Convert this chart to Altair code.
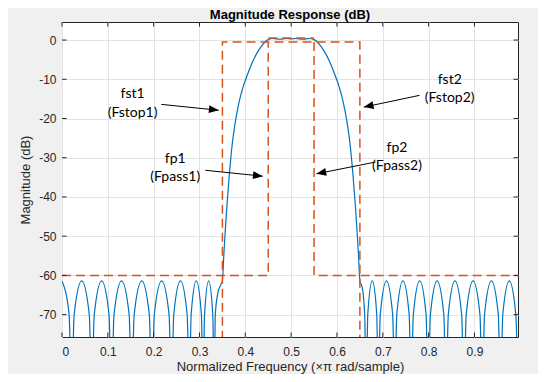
import altair as alt
import pandas as pd

# ---- Blue magnitude response ----
stop1_x = [0.000, 0.0155, 0.021,
           0.0265, 0.043, 0.0595, 0.065,
           0.0704, 0.0865, 0.1026, 0.108,
           0.1135, 0.130, 0.1465, 0.152,
           0.1575, 0.174, 0.1905, 0.196,
           0.2014, 0.2175, 0.2336, 0.239,
           0.2439, 0.2585, 0.2731, 0.278,
           0.2818, 0.293, 0.3042, 0.308,
           0.311, 0.320, 0.329, 0.332,
           0.3345, 0.340, 0.346]
stop1_y = [-61.4, -70, -90,
           -70, -61.4, -70, -90,
           -70, -61.4, -70, -90,
           -70, -61.4, -70, -90,
           -70, -61.4, -70, -90,
           -70, -61.4, -70, -90,
           -70, -61.4, -70, -90,
           -70, -61.4, -70, -90,
           -70, -61.4, -70, -90,
           -70, -64.5, -62.5]

main_x = [0.350, 0.353, 0.356, 0.360, 0.365, 0.371, 0.378, 0.386, 0.395,
          0.405, 0.415, 0.425, 0.435, 0.443, 0.450, 0.460, 0.475, 0.490,
          0.500, 0.510, 0.525, 0.540, 0.550, 0.557, 0.565, 0.575, 0.585,
          0.595, 0.605, 0.614, 0.622, 0.629, 0.635, 0.640, 0.644, 0.647, 0.650]
main_y = [-61.4, -55, -49, -42, -34.5, -27, -21, -16, -12,
          -8.7, -5.8, -3.4, -1.6, -0.5, 0.1, 0.4, 0.2, 0.4,
          0.3, 0.4, 0.2, 0.4, 0.1, -0.5, -1.6, -3.4, -5.8,
          -8.7, -12, -16, -21, -27, -34.5, -42, -49, -55, -61.4]

stop2_x = [0.655, 0.6605, 0.664,
           0.6672, 0.677, 0.6868, 0.690,
           0.6945, 0.708, 0.7215, 0.726,
           0.7305, 0.744, 0.7575, 0.762,
           0.7666, 0.7805, 0.7944, 0.799,
           0.8039, 0.8185, 0.8331, 0.838,
           0.8429, 0.8575, 0.8721, 0.877,
           0.882, 0.897, 0.912, 0.917,
           0.922, 0.937, 0.952, 0.957,
           0.9618, 0.976, 0.9902, 0.995]
stop2_y = [-63, -70, -90,
           -70, -61.4, -70, -90,
           -70, -61.4, -70, -90,
           -70, -61.4, -70, -90,
           -70, -61.4, -70, -90,
           -70, -61.4, -70, -90,
           -70, -61.4, -70, -90,
           -70, -61.4, -70, -90,
           -70, -61.4, -70, -90,
           -70, -61.4, -70, -90]

# ---- Red dashed specification mask ----
mask_seg = ["a", "a", "a", "b", "b", "b", "b", "c", "c", "c", "d", "d"]
mask_x = [0.0, 0.45, 0.45, 0.35, 0.35, 0.65, 0.65, 0.55, 0.55, 0.995, 0.45, 0.55]
mask_y = [-60, -60, -0.5, -80, -0.5, -0.5, -80, -0.5, -60, -60, 0.5, 0.5]

# ---- Annotations ----
note_text = ["fst1", "(Fstop1)", "fp1", "(Fpass1)", "fst2", "(Fstop2)", "fp2", "(Fpass2)"]
note_x = [0.154, 0.154, 0.247, 0.247, 0.846, 0.846, 0.731, 0.731]
note_y = [-13.7, -18.6, -30.3, -34.9, -10.1, -14.9, -27.4, -32.2]

arrow_x0 = [0.2168, 0.3129, 0.7801, 0.6840]
arrow_y0 = [-16.4, -33.2, -14.1, -31.1]
arrow_x1 = [0.3419, 0.4380, 0.6585, 0.5552]
arrow_y1 = [-17.9, -34.7, -17.1, -34.1]
arrow_angle = [6, 6, 168, 169]

x_ticks = [0, 0.1, 0.2, 0.3, 0.4, 0.5, 0.6, 0.7, 0.8, 0.9]
y_ticks = [0, -10, -20, -30, -40, -50, -60, -70]
x_domain = [0, 0.995]
y_domain = [-75.7, 4.6]

W, H, TL = 456, 315, 4.5

resp = pd.DataFrame({"f": stop1_x + main_x + stop2_x, "db": stop1_y + main_y + stop2_y})
mask = pd.DataFrame({"seg": mask_seg, "f": mask_x, "db": mask_y, "o": list(range(len(mask_x)))})
notes = pd.DataFrame({"t": note_text, "f": note_x, "db": note_y})
arrows = pd.DataFrame({"f": arrow_x0, "db": arrow_y0, "f2": arrow_x1, "db2": arrow_y1, "ang": arrow_angle})
xt = pd.DataFrame({"f": x_ticks})
yt = pd.DataFrame({"db": y_ticks})

FONT = "Liberation Sans"
TXT = "#262626"
xs = alt.Scale(domain=x_domain, nice=False, zero=False)
ys = alt.Scale(domain=y_domain, nice=False, zero=False)

x_main = alt.X("f:Q", scale=xs, axis=alt.Axis(
    values=x_ticks, labelExpr="'' + datum.value", ticks=False, domain=False,
    grid=True, gridColor="#e3e3e3", gridWidth=1, labelFont=FONT, labelFontSize=12,
    labelColor=TXT, labelPadding=9, title="Normalized Frequency (×π rad/sample)",
    titleFont=FONT, titleFontSize=13, titleFontWeight="normal", titleColor=TXT,
    titlePadding=3))
y_main = alt.Y("db:Q", scale=ys, axis=alt.Axis(
    values=y_ticks, labelExpr="'' + datum.value", ticks=False, domain=False,
    grid=True, gridColor="#e3e3e3", gridWidth=1, labelFont=FONT, labelFontSize=12,
    labelColor=TXT, labelPadding=6, title="Magnitude (dB)",
    titleFont=FONT, titleFontSize=13, titleFontWeight="normal", titleColor=TXT,
    titlePadding=6))

line = alt.Chart(resp).mark_line(color="#0072BD", strokeWidth=1.2,
                                 interpolate="monotone", clip=True).encode(x=x_main, y=y_main)

maskl = alt.Chart(mask).mark_line(color="#D95319", strokeWidth=1.5, strokeDash=[9, 5],
                                  clip=True).encode(
    x=alt.X("f:Q", scale=xs), y=alt.Y("db:Q", scale=ys), detail="seg:N", order="o:Q")

txt = alt.Chart(notes).mark_text(font="Lato", fontSize=14, color="black").encode(
    x=alt.X("f:Q", scale=xs), y=alt.Y("db:Q", scale=ys), text="t:N")

arr = alt.Chart(arrows).mark_rule(color="black", strokeWidth=1).encode(
    x=alt.X("f:Q", scale=xs), y=alt.Y("db:Q", scale=ys), x2="f2:Q", y2="db2:Q")

head = alt.Chart(arrows).mark_point(shape="M0,0L-1,-0.4L-1,0.4Z", filled=True,
                                    color="black", size=380, opacity=1).encode(
    x=alt.X("f2:Q", scale=xs), y=alt.Y("db2:Q", scale=ys), angle=alt.Angle("ang:Q", scale=None))

# inward tick marks on all four sides of the box (MATLAB style)
tk = dict(color="#262626", strokeWidth=1)
t_bottom = alt.Chart(xt).mark_rule(**tk).encode(
    x=alt.X("f:Q", scale=xs), y=alt.value(H), y2=alt.value(H - TL))
t_top = alt.Chart(xt).mark_rule(**tk).encode(
    x=alt.X("f:Q", scale=xs), y=alt.value(0), y2=alt.value(TL))
t_left = alt.Chart(yt).mark_rule(**tk).encode(
    y=alt.Y("db:Q", scale=ys), x=alt.value(0), x2=alt.value(TL))
t_right = alt.Chart(yt).mark_rule(**tk).encode(
    y=alt.Y("db:Q", scale=ys), x=alt.value(W), x2=alt.value(W - TL))

chart = alt.layer(line, maskl, arr, head, txt, t_bottom, t_top, t_left, t_right).properties(
    width=W, height=H,
    padding={"left": 54, "top": 14, "right": 20, "bottom": 37},
    autosize=alt.AutoSizeParams(type="none"),
    title=alt.TitleParams("Magnitude Response (dB)", fontSize=13, fontWeight="bold",
                          font=FONT, color="black", offset=0, anchor="middle"),
    background="#f0f0f0",
).configure_view(fill="white", stroke="#262626", strokeWidth=1)

chart.save("out.html", embed_options={"renderer": "svg", "actions": False})
